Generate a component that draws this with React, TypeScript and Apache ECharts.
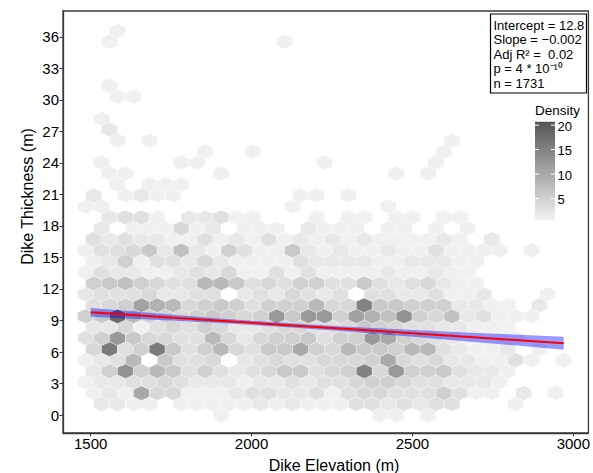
import React, { useEffect, useRef } from 'react';
import * as echarts from 'echarts';

// hex-bin densities, one array per hex row (row r is centred at y = r * BIN_DY)
// even rows: x = EVEN_X0 + k*BIN_DX ; odd rows: x = ODD_X0 + k*BIN_DX
const r00 = [0,0,0,0,0,0,0,0,1,0,0,0,0,0,0,0,0,0,1,1,0,1,0,0,0,0,0,0,0,0,0];
const r01 = [0,2,2,1,1,0,1,1,1,1,1,2,1,2,1,1,1,3,3,2,3,2,3,3,0,0,0,1,0,0,0];
const r02 = [1,2,1,10,4,4,1,1,1,2,3,3,2,2,3,1,3,4,4,3,3,3,5,3,1,1,0,2,0,1,0];
const r03 = [1,2,2,3,3,4,3,2,2,2,1,2,2,3,2,3,3,4,5,5,4,3,3,2,2,2,1,0,0,0,0];
const r04 = [2,5,13,5,8,6,3,5,3,2,3,4,6,6,3,4,5,15,4,12,5,5,6,3,2,2,1,0,0,0,0];
const r05 = [1,2,3,8,0,6,3,3,4,0,2,3,4,3,3,4,4,4,5,10,4,3,4,2,2,1,1,3,1,0,1];
const r06 = [4,16,3,5,16,6,3,5,8,4,3,6,6,10,5,4,8,6,6,5,8,8,3,2,1,1,2,0,1,0,0];
const r07 = [3,5,12,6,4,4,3,3,8,4,2,4,5,5,6,3,5,5,12,10,5,4,3,2,1,1,1,1,0,0,0];
const r08 = [2,2,4,1,3,4,3,5,4,2,2,3,4,4,3,3,4,6,5,4,3,3,2,2,1,1,1,0,0,0,0];
const r09 = [5,6,18,8,5,5,4,5,6,5,4,5,12,6,12,12,5,11,9,7,13,5,4,7,2,3,1,1,1,0,0];
const r10 = [3,4,5,11,9,8,4,5,6,5,3,5,5,5,8,4,4,15,6,6,5,5,5,2,2,1,1,0,2,0,0];
const r11 = [2,3,3,3,4,2,2,3,3,0,2,3,2,4,3,2,3,0,3,3,2,2,3,1,1,2,0,0,0,1,0];
const r12 = [5,6,7,5,4,3,3,8,8,6,3,4,3,5,5,3,3,6,3,2,3,4,2,1,1,0,0,0,0,0,0];
const r13 = [1,3,2,2,1,1,2,3,2,4,1,1,3,1,3,1,1,1,1,2,1,1,2,1,1,0,0,0,0,0,0];
const r14 = [1,2,5,1,3,3,2,4,2,1,1,1,1,3,2,2,2,2,1,1,2,2,2,1,1,0,0,0,0,0,0];
const r15 = [1,3,3,4,6,2,7,2,1,5,3,1,1,6,2,1,2,1,1,2,1,1,3,1,1,1,1,0,1,0,0];
const r16 = [3,2,3,2,2,1,1,3,1,2,1,3,1,2,1,2,1,2,1,1,1,1,2,1,0,2,0,0,0,0,0];
const r17 = [0,2,0,1,1,1,4,1,2,0,1,1,1,0,2,1,1,1,0,1,1,0,1,0,1,0,0,0,0,0,0];
const r18 = [0,2,3,3,1,0,2,2,3,1,1,0,0,0,1,0,1,1,0,1,1,0,1,1,0,0,0,0,0,0,0];
const r19 = [1,1,0,0,0,0,0,0,0,0,0,0,0,1,0,0,0,0,0,1,0,0,0,0,0,0,0,0,0,0,0];
const r20 = [2,0,1,2,1,1,0,0,0,0,0,0,0,1,1,0,1,0,0,0,0,0,0,0,0,0,0,0,0,0,0];
const r21 = [0,0,1,0,1,1,1,0,0,0,0,0,0,0,0,0,0,0,0,0,0,0,0,0,0,0,0,0,0,0,0];
const r22 = [0,1,1,0,0,0,0,0,1,0,0,0,0,0,0,0,0,0,0,1,0,1,0,0,0,0,0,0,0,0,0];
const r23 = [0,1,0,0,0,0,1,1,0,0,0,0,0,0,0,1,0,0,0,0,0,0,1,0,0,0,0,0,0,0,0];
const r24 = [0,0,0,0,0,0,0,1,0,0,1,0,0,0,0,0,0,0,0,0,0,0,1,0,0,0,0,0,0,0,0];
const r25 = [0,0,1,0,1,0,0,0,0,0,0,0,0,0,0,0,0,0,0,0,0,0,0,1,0,0,0,0,0,0,0];
const r26 = [0,2,0,0,0,0,0,0,0,0,0,0,0,0,0,0,0,0,0,0,0,0,0,0,0,0,0,0,0,0,0];
const r27 = [0,1,0,0,0,0,0,0,0,0,0,0,0,0,0,0,0,0,0,0,0,0,0,0,0,0,0,0,0,0,0];
const r28 = [0,0,0,0,0,0,0,0,0,0,0,0,0,0,0,0,0,0,0,0,0,0,0,0,0,0,0,0,0,0,0];
const r29 = [0,0,1,1,0,0,0,0,0,0,0,0,0,0,0,0,0,0,0,0,0,0,0,0,0,0,0,0,0,0,0];
const r30 = [0,1,0,0,0,0,0,0,0,0,0,0,0,0,0,0,0,0,0,0,0,0,0,0,0,0,0,0,0,0,0];
const r31 = [0,0,0,0,0,0,0,0,0,0,0,0,0,0,0,0,0,0,0,0,0,0,0,0,0,0,0,0,0,0,0];
const r32 = [0,0,0,0,0,0,0,0,0,0,0,0,0,0,0,0,0,0,0,0,0,0,0,0,0,0,0,0,0,0,0];
const r33 = [0,0,0,0,0,0,0,0,0,0,0,0,0,0,0,0,0,0,0,0,0,0,0,0,0,0,0,0,0,0,0];
const r34 = [0,1,0,0,0,0,0,0,0,0,0,0,1,0,0,0,0,0,0,0,0,0,0,0,0,0,0,0,0,0,0];
const r35 = [0,0,1,0,0,0,0,0,0,0,0,0,0,0,0,0,0,0,0,0,0,0,0,0,0,0,0,0,0,0,0];

const densityRows = [r00,r01,r02,r03,r04,r05,r06,r07,r08,r09,r10,r11,r12,r13,r14,r15,r16,r17,r18,r19,r20,r21,r22,r23,r24,r25,r26,r27,r28,r29,r30,r31,r32,r33,r34,r35];

// bin grid
const BIN_DX = 49.5;
const BIN_DY = 1.045;
const EVEN_X0 = 1509;
const ODD_X0 = 1484.25;

const xTicks = [1500, 2000, 2500, 3000];
const yTicks = [0, 3, 6, 9, 12, 15, 18, 21, 24, 27, 30, 33, 36];
const legendTicks = [5, 10, 15, 20];
const densityMin = 0.6;
const densityMax = 20.7;

// regression fit and its confidence band
const fitX = [1500, 1700, 1900, 2100, 2300, 2500, 2700, 2970];
const fitY = [9.78, 9.38, 8.98, 8.58, 8.18, 7.78, 7.38, 6.84];
const bandUpper = [10.2, 9.68, 9.2, 8.78, 8.41, 8.1, 7.82, 7.46];
const bandLower = [9.36, 9.08, 8.76, 8.38, 7.95, 7.46, 6.94, 6.22];

const statLines = ['Intercept = 12.8', 'Slope = \u22120.002', 'Adj R\u00B2 =  0.02', 'p = 4 * 10\u207B\u00B9\u2070', 'n = 1731'];

const LOW = '#F3F3F3';
const HIGH = '#555555';
const FONT = '"Liberation Sans", Arial, Helvetica, sans-serif';

export default function App() {
  const ref = useRef<HTMLDivElement>(null);

  useEffect(() => {
    if (!ref.current) return;
    const chart = echarts.init(ref.current, null, { renderer: 'svg' });

    const hexData: number[][] = [];
    densityRows.forEach((row, r) => {
      const odd = r % 2 === 1;
      row.forEach((d, k) => {
        if (d <= 0) return;
        if (!odd && k > 29) return;
        const x = (odd ? ODD_X0 : EVEN_X0) + k * BIN_DX;
        hexData.push([x, r * BIN_DY, d]);
      });
    });

    const bandPts: number[][] = [];
    fitX.forEach((x, i) => bandPts.push([x, bandUpper[i]]));
    for (let i = fitX.length - 1; i >= 0; i--) bandPts.push([fitX[i], bandLower[i]]);

    const barX = 535, barY = 121.7, barW = 20, barH = 98.3;
    const legendY = (v: number) => barY + ((densityMax - v) / (densityMax - densityMin)) * barH;

    const graphics: any[] = [];
    // stats box
    graphics.push({
      type: 'rect', z: 100,
      shape: { x: 490.5, y: 14, width: 96, height: 79 },
      style: { fill: '#fff', stroke: '#000', lineWidth: 1.2 },
    });
    statLines.forEach((t, i) => {
      graphics.push({
        type: 'text', z: 101, x: 493.5, y: 25 + i * 14.6,
        style: { text: t, fontSize: 13, fontFamily: FONT, fill: '#000', textAlign: 'left', textVerticalAlign: 'middle' },
      });
    });
    // legend
    graphics.push({
      type: 'text', z: 101, x: 535, y: 110.5,
      style: { text: 'Density', fontSize: 13.5, fontFamily: FONT, fill: '#000', textAlign: 'left', textVerticalAlign: 'middle' },
    });
    graphics.push({
      type: 'rect', z: 100,
      shape: { x: barX, y: barY, width: barW, height: barH },
      style: {
        fill: { type: 'linear', x: 0, y: 0, x2: 0, y2: 1, colorStops: [{ offset: 0, color: HIGH }, { offset: 1, color: LOW }] },
      },
    });
    legendTicks.forEach((v) => {
      const y = legendY(v);
      graphics.push({ type: 'line', z: 101, shape: { x1: barX, y1: y, x2: barX + 4, y2: y }, style: { stroke: '#fff', lineWidth: 1 } });
      graphics.push({ type: 'line', z: 101, shape: { x1: barX + barW - 4, y1: y, x2: barX + barW, y2: y }, style: { stroke: '#fff', lineWidth: 1 } });
      graphics.push({
        type: 'text', z: 101, x: barX + barW + 2.5, y: y + 1,
        style: { text: String(v), fontSize: 13, fontFamily: FONT, fill: '#000', textAlign: 'left', textVerticalAlign: 'middle' },
      });
    });
    // axis titles
    graphics.push({
      type: 'text', z: 101, x: 334, y: 465,
      style: { text: 'Dike Elevation (m)', fontSize: 16, fontFamily: FONT, fill: '#000', textAlign: 'center', textVerticalAlign: 'middle' },
    });
    graphics.push({
      type: 'text', z: 101, x: 27, y: 196.5, rotation: Math.PI / 2,
      style: { text: 'Dike Thickness (m)', fontSize: 16, fontFamily: FONT, fill: '#000', textAlign: 'center', textVerticalAlign: 'middle' },
    });

    const option: any = {
      animation: false,
      backgroundColor: '#fff',
      textStyle: { fontFamily: FONT },
      grid: { left: 63, top: 11, right: 3, bottom: 40, show: true, borderColor: '#3a3a3a', borderWidth: 1.3, backgroundColor: 'transparent' },
      xAxis: {
        type: 'value', min: 1414, max: 3047,
        axisLine: { show: true, onZero: false, lineStyle: { color: '#3a3a3a', width: 1.3 } },
        axisTick: { show: true, length: 3.5, customValues: xTicks, lineStyle: { color: '#3a3a3a', width: 1 } },
        axisLabel: { customValues: xTicks, formatter: (v: number) => String(v), fontSize: 15, color: '#000', margin: 3, fontFamily: FONT },
        splitLine: { show: false },
      },
      yAxis: {
        type: 'value', min: -1.71, max: 38.46,
        axisLine: { show: true, onZero: false, lineStyle: { color: '#3a3a3a', width: 1.3 } },
        axisTick: { show: true, length: 3.5, customValues: yTicks, lineStyle: { color: '#3a3a3a', width: 1 } },
        axisLabel: { customValues: yTicks, formatter: (v: number) => String(v), fontSize: 15, color: '#000', margin: 4, fontFamily: FONT },
        splitLine: { show: false },
      },
      visualMap: {
        type: 'continuous', show: false, min: densityMin, max: densityMax, dimension: 2, seriesIndex: 0,
        inRange: { color: [LOW, HIGH] },
      },
      series: [
        {
          type: 'custom', name: 'hex', data: hexData, z: 2,
          renderItem: (params: any, api: any) => {
            const c = api.coord([api.value(0), api.value(1)]);
            const sz = api.size([BIN_DX, BIN_DY]);
            const hw = sz[0] / 2;
            const r = sz[1] / 1.5;
            const pts = [
              [c[0], c[1] - r], [c[0] + hw, c[1] - r / 2], [c[0] + hw, c[1] + r / 2],
              [c[0], c[1] + r], [c[0] - hw, c[1] + r / 2], [c[0] - hw, c[1] - r / 2],
            ];
            return { type: 'polygon', shape: { points: pts }, style: { fill: api.visual('color'), stroke: 'rgba(255,255,255,0.6)', lineWidth: 0.5 } };
          },
        },
        {
          type: 'custom', name: 'band', data: [0], z: 3,
          renderItem: (params: any, api: any) => {
            const pts = bandPts.map((p) => api.coord(p));
            return { type: 'polygon', shape: { points: pts }, style: { fill: 'rgba(0,0,255,0.4)', stroke: 'none' } };
          },
        },
        {
          type: 'line', name: 'fit', z: 4, symbol: 'none',
          data: fitX.map((x, i) => [x, fitY[i]]),
          lineStyle: { color: '#ff0000', width: 2 },
        },
      ],
      graphic: graphics,
    };

    chart.setOption(option);
    return () => chart.dispose();
  }, []);

  return <div ref={ref} style={{ position: 'fixed', left: 0, top: 0, width: 593, height: 473, background: '#fff' }} />;
}
